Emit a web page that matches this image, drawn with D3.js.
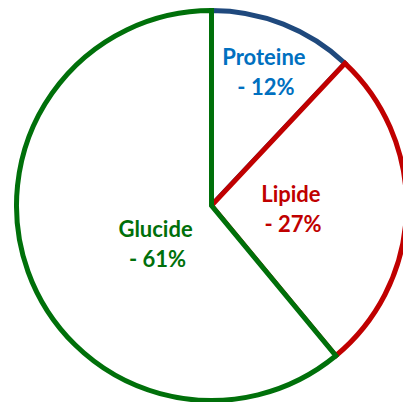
<!DOCTYPE html>
<html>
<head>
<meta charset="utf-8">
<script src="https://cdn.jsdelivr.net/npm/d3@7"></script>
<style>
  body { margin: 0; background: #fff; }
  svg { display: block; }
  .label { font-family: Lato, "Open Sans", sans-serif; font-weight: bold; font-size: 22px; text-anchor: middle; }
</style>
</head>
<body>
<svg id="chart" width="403" height="402"></svg>
<script>
// Data
const categories = ['Proteine', 'Lipide', 'Glucide'];
const shares = [12, 27, 61];
const strokeColors = ['#1F497D', '#C00000', '#00700A'];
const textColors = ['#0070C0', '#C00000', '#00700A'];

const width = 403;
const height = 402;
const cx = 211.5;
const cy = 205.5;
const radius = 195;

// label placement: fraction of radius along slice mid angle, plus angle tweak (deg)
const labelLayout = [
  { r: 0.73, da: 0 },
  { r: 0.408, da: 1.4 },
  { r: 0.351, da: -15.4 }
];

const data = categories.map((c, i) => ({ name: c, value: shares[i], i }));

const svg = d3.select('#chart');
const g = svg.append('g').attr('transform', `translate(${cx},${cy})`);

const pie = d3.pie().sort(null).value(d => d.value);
const arc = d3.arc().innerRadius(0).outerRadius(radius);

const arcs = pie(data);

g.selectAll('path')
  .data(arcs)
  .enter()
  .append('path')
  .attr('d', arc)
  .attr('fill', '#fff')
  .attr('stroke', d => strokeColors[d.data.i])
  .attr('stroke-width', 5)
  .attr('stroke-linejoin', 'miter');

// Labels
const labels = g.selectAll('text')
  .data(arcs)
  .enter()
  .append('text')
  .attr('class', 'label')
  .attr('fill', d => textColors[d.data.i])
  .attr('transform', d => {
    const lay = labelLayout[d.data.i];
    const a = (d.startAngle + d.endAngle) / 2 + lay.da * Math.PI / 180;
    const rr = radius * lay.r;
    return `translate(${rr * Math.sin(a)},${-rr * Math.cos(a)})`;
  });

labels.append('tspan')
  .attr('x', 0)
  .attr('y', -8)
  .text(d => d.data.name);

labels.append('tspan')
  .attr('x', 2)
  .attr('y', 22)
  .text(d => `- ${d.data.value}%`);
</script>
</body>
</html>
